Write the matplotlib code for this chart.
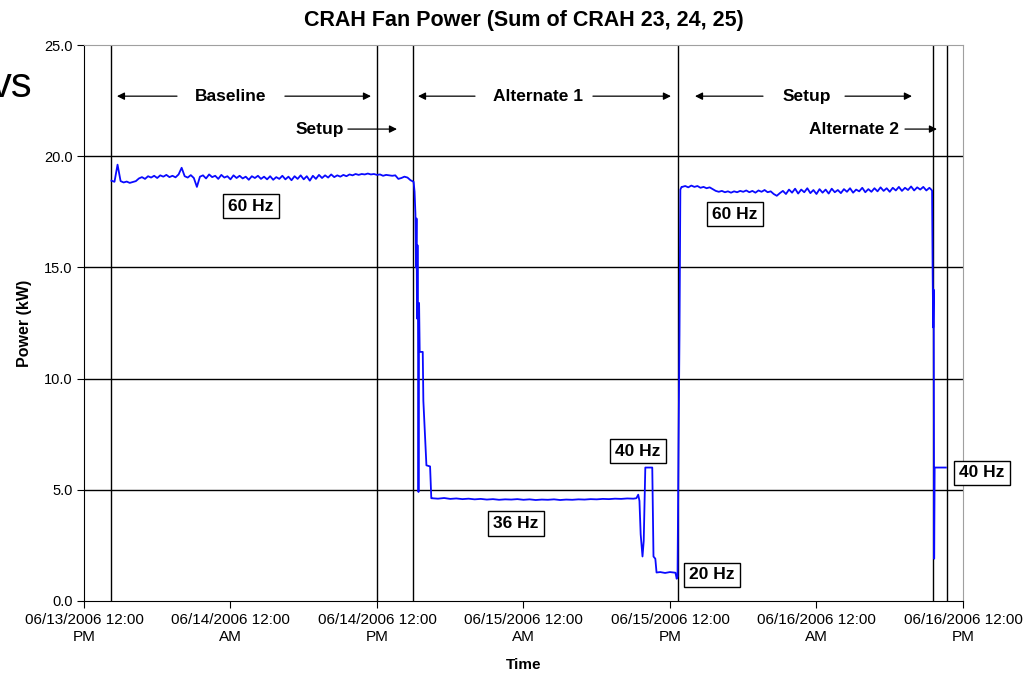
import numpy as np
import pandas as pd
import matplotlib
matplotlib.use('Agg')
import matplotlib.pyplot as plt
import matplotlib.dates as mdates

plt.rcParams['font.family'] = ['Liberation Sans', 'DejaVu Sans']

start = pd.Timestamp('2006-06-13 12:00')

# baseline at 60 Hz, logged every 15 min from hour 2.25
baseline_kw = [18.90, 18.85, 19.62, 18.88, 18.82, 18.86, 18.80, 18.84, 18.88, 19.00,
               19.06, 18.98, 19.10, 19.04, 19.12, 19.02, 19.14, 19.08, 19.16, 19.06,
               19.12, 19.05, 19.18, 19.48, 19.10, 19.04, 19.15, 19.02, 18.62, 19.08,
               19.14, 19.00, 19.18, 19.06, 19.12, 18.98, 19.16, 19.04, 19.10, 18.96,
               19.14, 19.02, 19.12, 19.00, 19.08, 18.94, 19.10, 19.02, 19.12, 18.98,
               19.08, 18.96, 19.10, 18.94, 19.06, 18.98, 19.12, 18.96, 19.08, 18.92,
               19.10, 18.98, 19.14, 18.96, 19.10, 18.90, 19.12, 18.98, 19.16, 19.02,
               19.14, 19.04, 19.18, 19.06, 19.14, 19.08, 19.16, 19.10, 19.18, 19.14,
               19.20, 19.16, 19.20, 19.18, 19.22, 19.18, 19.20, 19.16, 19.18, 19.12,
               19.16, 19.14, 19.12, 19.14, 18.98, 19.02, 19.08, 19.04, 18.92]

# ramp down into alternate 1
ramp1_h = [27.00, 27.08, 27.15, 27.20, 27.24, 27.28, 27.32, 27.36, 27.40, 27.45,
           27.50, 27.75, 27.80, 28.05, 28.35, 28.45]
ramp1_kw = [18.85, 18.40, 17.40, 15.00, 17.20, 12.70, 16.00, 13.00, 4.90, 13.40,
            11.20, 11.20, 9.00, 6.10, 6.05, 4.62]

# 36 Hz, every 30 min from hour 28.5
hz36_kw = [4.62, 4.60, 4.63, 4.59, 4.61, 4.58, 4.60, 4.57, 4.59, 4.56,
           4.58, 4.55, 4.57, 4.56, 4.58, 4.55, 4.57, 4.54, 4.56, 4.55,
           4.57, 4.54, 4.56, 4.55, 4.57, 4.56, 4.58, 4.57, 4.59, 4.58,
           4.60, 4.59, 4.61, 4.60]

# 40 Hz / 20 Hz steps and recovery to 60 Hz
steps_h = [45.25, 45.40, 45.50, 45.60, 45.75, 45.85, 45.98, 46.55, 46.65, 46.80,
           46.90, 47.20, 47.60, 48.00, 48.45, 48.55, 48.62, 48.70, 48.78, 48.85, 48.95]
steps_kw = [4.62, 4.78, 4.50, 3.00, 2.00, 2.70, 6.00, 6.00, 2.00, 1.90,
            1.28, 1.30, 1.26, 1.30, 1.27, 1.00, 1.10, 6.90, 12.00, 18.50, 18.62]

# second setup at 60 Hz, every 15 min from hour 49
setup_kw = [18.62, 18.66, 18.60, 18.68, 18.62, 18.66, 18.58, 18.62, 18.56, 18.60,
            18.52, 18.44, 18.40, 18.44, 18.38, 18.42, 18.36, 18.42, 18.38, 18.44,
            18.40, 18.46, 18.38, 18.44, 18.36, 18.46, 18.40, 18.48, 18.38, 18.42,
            18.30, 18.22, 18.34, 18.44, 18.30, 18.50, 18.36, 18.54, 18.32, 18.50,
            18.38, 18.56, 18.34, 18.48, 18.30, 18.52, 18.36, 18.50, 18.32, 18.54,
            18.38, 18.48, 18.34, 18.52, 18.40, 18.56, 18.36, 18.50, 18.42, 18.58,
            18.38, 18.52, 18.40, 18.56, 18.42, 18.60, 18.44, 18.56, 18.40, 18.58,
            18.46, 18.62, 18.44, 18.58, 18.48, 18.64, 18.46, 18.60, 18.50, 18.62,
            18.46, 18.58]

# drop into alternate 2 (40 Hz)
alt2_h = [69.40, 69.47, 69.52, 69.56, 69.60, 69.64, 69.68, 70.60]
alt2_kw = [18.50, 18.45, 14.60, 12.30, 14.00, 1.90, 6.00, 6.00]

# phase boundaries (hours after start)
phase_h = [2.21, 24.0, 26.95, 48.66, 69.54, 70.7]

hours = np.concatenate([
    2.25 + 0.25 * np.arange(len(baseline_kw)), ramp1_h,
    28.5 + 0.5 * np.arange(len(hz36_kw)), steps_h,
    49.0 + 0.25 * np.arange(len(setup_kw)), alt2_h])
power = np.concatenate([baseline_kw, ramp1_kw, hz36_kw, steps_kw, setup_kw, alt2_kw])
times = start + pd.to_timedelta(hours, unit='h')


def t(h):
    return mdates.date2num(start + pd.Timedelta(hours=h))


fig = plt.figure(figsize=(10.24, 6.77), dpi=100)
ax = fig.add_axes([0.082, 0.1123, 0.8584, 0.8212])

for y in [5, 10, 15, 20]:
    ax.axhline(y, color='black', lw=1.0, zorder=1)
for h in phase_h:
    ax.axvline(t(h), color='black', lw=1.0, zorder=1)

ax.plot(times, power, color='#0a0aff', lw=1.3, zorder=3)

ax.set_xlim(t(0), t(72))
ax.set_ylim(0, 25)
ax.set_yticks(np.arange(0, 25.1, 5))
ax.yaxis.set_major_formatter(matplotlib.ticker.FormatStrFormatter('%.1f'))
ax.xaxis.set_major_locator(mdates.HourLocator(byhour=[0, 12]))
ax.xaxis.set_major_formatter(mdates.DateFormatter('%m/%d/%Y %I:%M\n%p'))
ax.tick_params(axis='x', labelsize=11, length=5, direction='out', pad=4)
ax.tick_params(axis='y', labelsize=10.5, length=5, direction='out', pad=3)
for lab in ax.get_xticklabels():
    lab.set_horizontalalignment('center')

ax.spines['top'].set_color('#a0a0a0')
ax.spines['right'].set_color('#a0a0a0')
ax.spines['left'].set_color('black')
ax.spines['bottom'].set_color('black')

ax.set_title('CRAH Fan Power (Sum of CRAH 23, 24, 25)', fontsize=15.5,
             fontweight='bold', pad=14)
ax.set_ylabel('Power (kW)', fontsize=11.5, fontweight='bold', labelpad=9)
ax.set_xlabel('Time', fontsize=11, fontweight='bold', labelpad=10)

# phase labels with arrows
arrow = dict(arrowstyle='-|>', color='black', lw=0.9, mutation_scale=11,
             shrinkA=0, shrinkB=0)
phase_txt = dict(fontsize=12.5, fontweight='bold', ha='center', va='center')
row1, row2 = 22.7, 21.22

ax.text(t(12.04), row1, 'Baseline', **phase_txt)
ax.annotate('', xy=(t(2.70), row1), xytext=(t(7.62), row1), arrowprops=arrow)
ax.annotate('', xy=(t(23.51), row1), xytext=(t(16.46), row1), arrowprops=arrow)

ax.text(t(19.33), row2, 'Setup', **phase_txt)
ax.annotate('', xy=(t(25.64), row2), xytext=(t(21.62), row2), arrowprops=arrow)

ax.text(t(37.19), row1, 'Alternate 1', **phase_txt)
ax.annotate('', xy=(t(27.36), row1), xytext=(t(32.03), row1), arrowprops=arrow)
ax.annotate('', xy=(t(48.08), row1), xytext=(t(41.69), row1), arrowprops=arrow)

ax.text(t(59.22), row1, 'Setup', **phase_txt)
ax.annotate('', xy=(t(50.05), row1), xytext=(t(55.62), row1), arrowprops=arrow)
ax.annotate('', xy=(t(67.82), row1), xytext=(t(62.34), row1), arrowprops=arrow)

ax.text(t(66.75), row2, 'Alternate 2', fontsize=12.5, fontweight='bold',
        ha='right', va='center')
ax.annotate('', xy=(t(69.87), row2), xytext=(t(67.25), row2), arrowprops=arrow)

# fan speed call-outs
box = dict(boxstyle='square,pad=0.28', fc='white', ec='black', lw=1.0)
callouts = [(13.68, 17.76, '60 Hz'), (53.33, 17.40, '60 Hz'), (35.39, 3.50, '36 Hz'),
            (45.38, 6.74, '40 Hz'), (51.44, 1.17, '20 Hz'), (73.56, 5.76, '40 Hz')]
for h, v, s in callouts:
    ax.text(t(h), v, s, fontsize=12.5, fontweight='bold', ha='center', va='center',
            bbox=box, zorder=5, clip_on=False)

fig.text(32 / 1024, 1 - 86 / 677, 'vs', fontsize=30, ha='right', va='center')

fig.savefig('out.png', dpi=100)
